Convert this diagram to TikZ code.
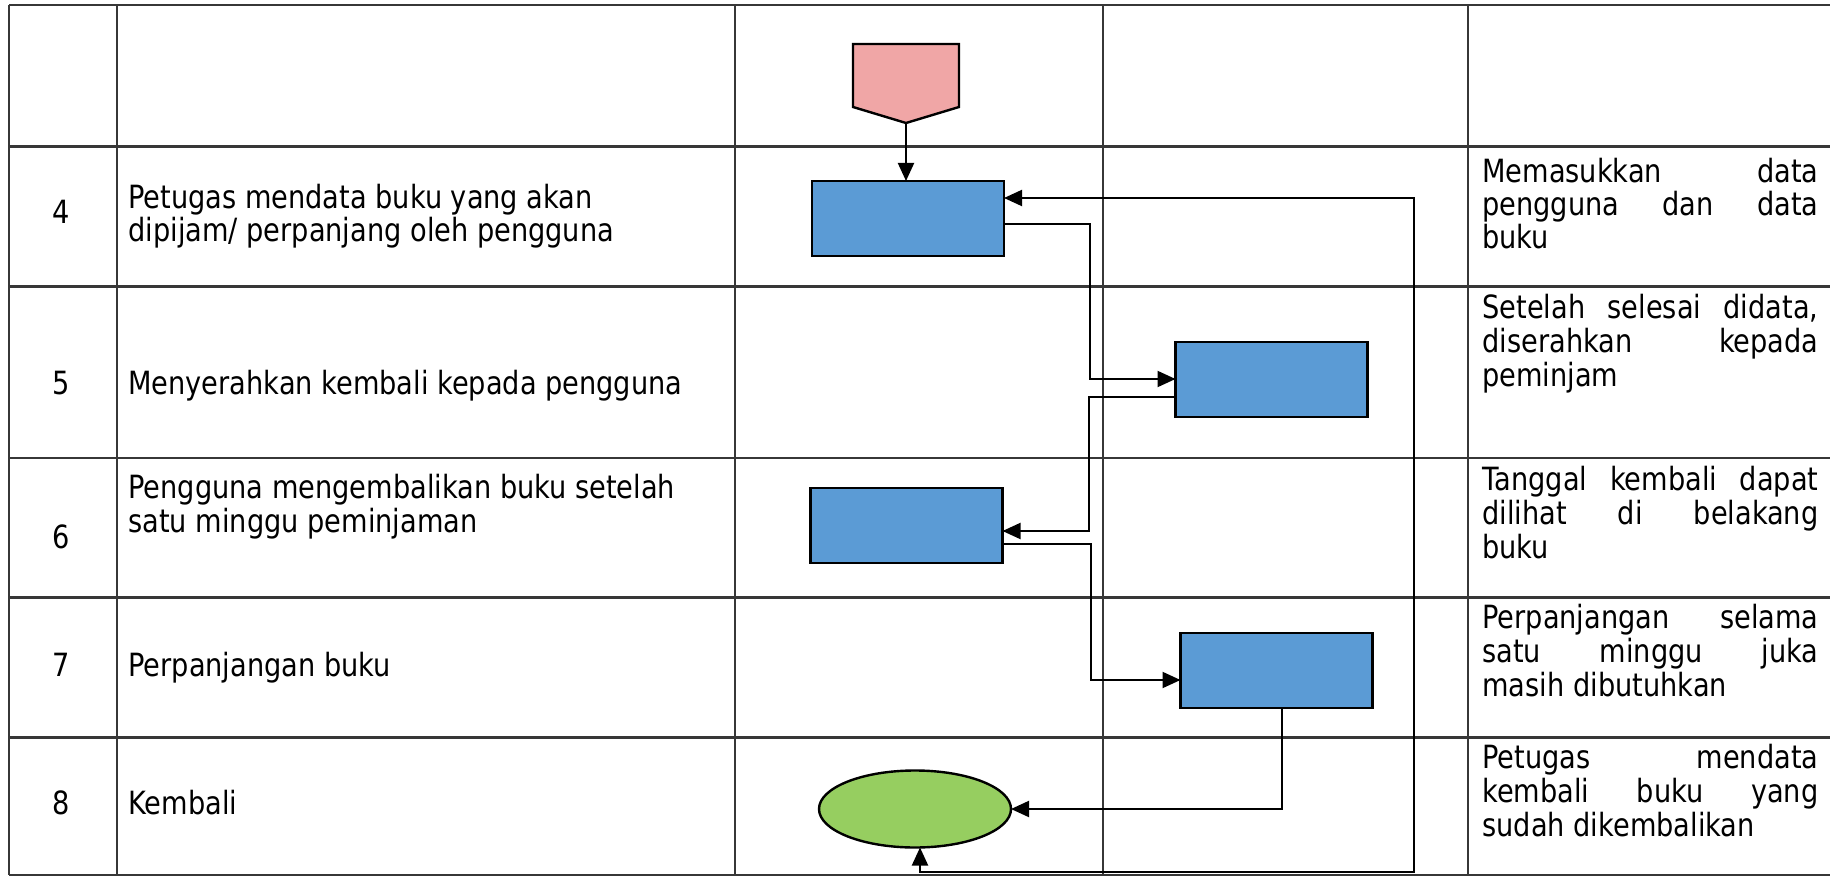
\documentclass[tikz,border=0pt]{standalone}
\usepackage{fontspec}
\setmainfont{DejaVu Sans}[FakeStretch=0.85]
\usetikzlibrary{arrows.meta,shapes.geometric}
\definecolor{startpink}{RGB}{240,166,166}
\definecolor{procblue}{RGB}{91,155,213}
\definecolor{endgreen}{RGB}{150,206,96}
\definecolor{gridline}{RGB}{55,55,55}
\newcommand{\jl}[1]{\hbox to 168pt{#1}}
\begin{document}
\begin{tikzpicture}[x=0.5pt,y=-0.5pt,
  hline/.style={draw=gridline, line width=1.3pt},
  vline/.style={draw=gridline, line width=0.8pt},
  txt/.style={anchor=mid west, inner sep=0pt, font=\fontsize{16}{19}\selectfont},
  num/.style={anchor=mid, inner sep=0pt, font=\fontsize{16}{19}\selectfont},
  proc/.style={draw=black, line width=1.2pt, fill=procblue, minimum width=96pt,
    minimum height=37.5pt, inner sep=0pt, outer sep=0pt},
  flow/.style={draw=black, line width=1pt, -{Triangle[length=9pt,width=8pt]}},
  flowboth/.style={draw=black, line width=1pt,
    {Triangle[length=9pt,width=8pt]}-{Triangle[length=9pt,width=8pt]}},
]
\useasboundingbox (0,0) rectangle (1830,877);

% table rules
\foreach \y in {5,146.5,286.5,458,597.5,737.5,875}
  \draw[hline] (9,\y) -- (1830,\y);
\foreach \x in {9,117,735,1103,1468}
  \draw[vline] (\x,5) -- (\x,875);

% off-page start connector
\draw[line width=1.2pt, fill=startpink] (853,44) -- (959,44) -- (959,107)
  -- (906,123) -- (853,107) -- cycle;
\coordinate (start) at (906,123);

% process boxes and terminator
\node[proc] (p4) at (908,218.5) {};
\node[proc] (p5) at (1271.5,379.5) {};
\node[proc] (p6) at (906.5,525.5) {};
\node[proc] (p7) at (1276.5,670.5) {};
\node[ellipse, draw=black, line width=1.2pt, fill=endgreen, minimum width=96pt,
  minimum height=38.5pt, inner sep=0pt, outer sep=0pt] (end) at (915,809) {};

% connectors
\draw[flow] (start) -- (start |- p4.north);
\draw[flow] (p4.east |- 0,224) -- (1090,224) -- (1090,379) -- (p5.west |- 0,379);
\draw[flow] (p5.west |- 0,397) -- (1089,397) -- (1089,531) -- (p6.east |- 0,531);
\draw[flow] (p6.east |- 0,544) -- (1091,544) -- (1091,680) -- (p7.west |- 0,680);
\draw[flow] (1282,0 |- p7.south) -- (1282,809) -- (end.east);
\draw[flowboth] ([xshift=2.5pt]end.south) -- (920,872) -- (1414,872)
  -- (1414,198) -- (p4.east |- 0,198);

% step numbers
\node[num] (n4) at (61,218) {4};
\node[num] (n5) at (61,389) {5};
\node[num] (n6) at (61,543) {6};
\node[num] (n7) at (61,671) {7};
\node[num] (n8) at (61,809) {8};

% activity descriptions
\node[txt] (t4a) at (128,203) {Petugas mendata buku yang akan};
\node[txt] (t4b) at (128,236) {dipijam/ perpanjang oleh pengguna};
\node[txt] (t5)  at (128,389) {Menyerahkan kembali kepada pengguna};
\node[txt] (t6a) at (128,493) {Pengguna mengembalikan buku setelah};
\node[txt] (t6b) at (128,527) {satu minggu peminjaman};
\node[txt] (t7)  at (128,671) {Perpanjangan buku};
\node[txt] (t8)  at (128,809) {Kembali};

% notes column
\node[txt] (k4a) at (1482,177) {\jl{Memasukkan\hfill data}};
\node[txt] (k4b) at (1482,210) {\jl{pengguna\hfill dan\hfill data}};
\node[txt] (k4c) at (1482,243) {buku};
\node[txt] (k5a) at (1482,313) {\jl{Setelah\hfill selesai\hfill didata,}};
\node[txt] (k5b) at (1482,347) {\jl{diserahkan\hfill kepada}};
\node[txt] (k5c) at (1482,381) {peminjam};
\node[txt] (k6a) at (1482,485) {\jl{Tanggal\hfill kembali\hfill dapat}};
\node[txt] (k6b) at (1482,519) {\jl{dilihat\hfill di\hfill belakang}};
\node[txt] (k6c) at (1482,553) {buku};
\node[txt] (k7a) at (1482,623) {\jl{Perpanjangan\hfill selama}};
\node[txt] (k7b) at (1482,657) {\jl{satu\hfill minggu\hfill juka}};
\node[txt] (k7c) at (1482,691) {masih dibutuhkan};
\node[txt] (k8a) at (1482,763) {\jl{Petugas\hfill mendata}};
\node[txt] (k8b) at (1482,797) {\jl{kembali\hfill buku\hfill yang}};
\node[txt] (k8c) at (1482,831) {sudah dikembalikan};
\end{tikzpicture}
\end{document}
